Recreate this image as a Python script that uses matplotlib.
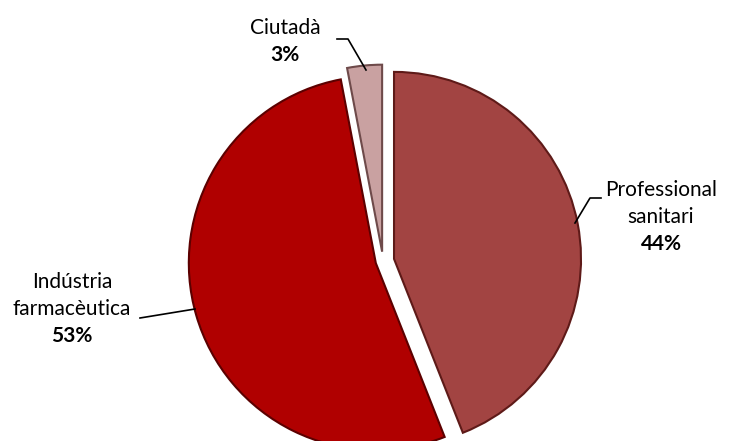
import matplotlib.pyplot as plt

plt.rcParams["font.family"] = ["Lato", "DejaVu Sans"]

# data, clockwise from 12 o'clock
labels = ["Professional\nsanitari", "Indústria\nfarmacèutica", "Ciutadà"]
pcts = [44, 53, 3]
colors = ["#A24442", "#B00000", "#C9A1A1"]
edges = ["#5e1a18", "#5c0000", "#6e4a4a"]
explode = [0.06, 0.04, 0.05]

W, H = 729, 441
CX, CY, R = 383, 261, 187


def d(px, py):
    # pixel position -> data coords
    return (px - CX) / R, (CY - py) / R


fig = plt.figure(figsize=(W / 100, H / 100), dpi=100)
ax = fig.add_axes([0, 0, 1, 1])

wedges, _ = ax.pie(pcts, colors=colors, startangle=90, counterclock=False,
                   explode=explode, radius=1, center=(0, 0),
                   wedgeprops=dict(linewidth=1.5))
for w, ec in zip(wedges, edges):
    w.set_edgecolor(ec)

ax.set_xlim(-CX / R, (W - CX) / R)
ax.set_ylim(-(H - CY) / R, CY / R)
ax.set_aspect("equal")
ax.axis("off")

# labels: (name lines, pct, x, y of first line)
lab_pos = [(661, 190), (72, 282), (285, 28)]
for lab, p, (x, y) in zip(labels, pcts, lab_pos):
    lines = lab.split("\n")
    for i, ln in enumerate(lines):
        ax.text(*d(x, y + 27 * i), ln, ha="center", va="center", fontsize=15)
    ax.text(*d(x, y + 27 * len(lines)), f"{p}%", ha="center", va="center",
            fontsize=15, fontweight="bold")

# leader lines
leaders = [
    [(601, 198), (590, 198), (575, 223)],
    [(140, 318), (195, 309)],
    [(337, 39), (348, 39), (366, 70)],
]
for pts in leaders:
    xy = [d(*p) for p in pts]
    ax.plot([p[0] for p in xy], [p[1] for p in xy], color="black", lw=1.2)

fig.savefig("out.png", dpi=100)
